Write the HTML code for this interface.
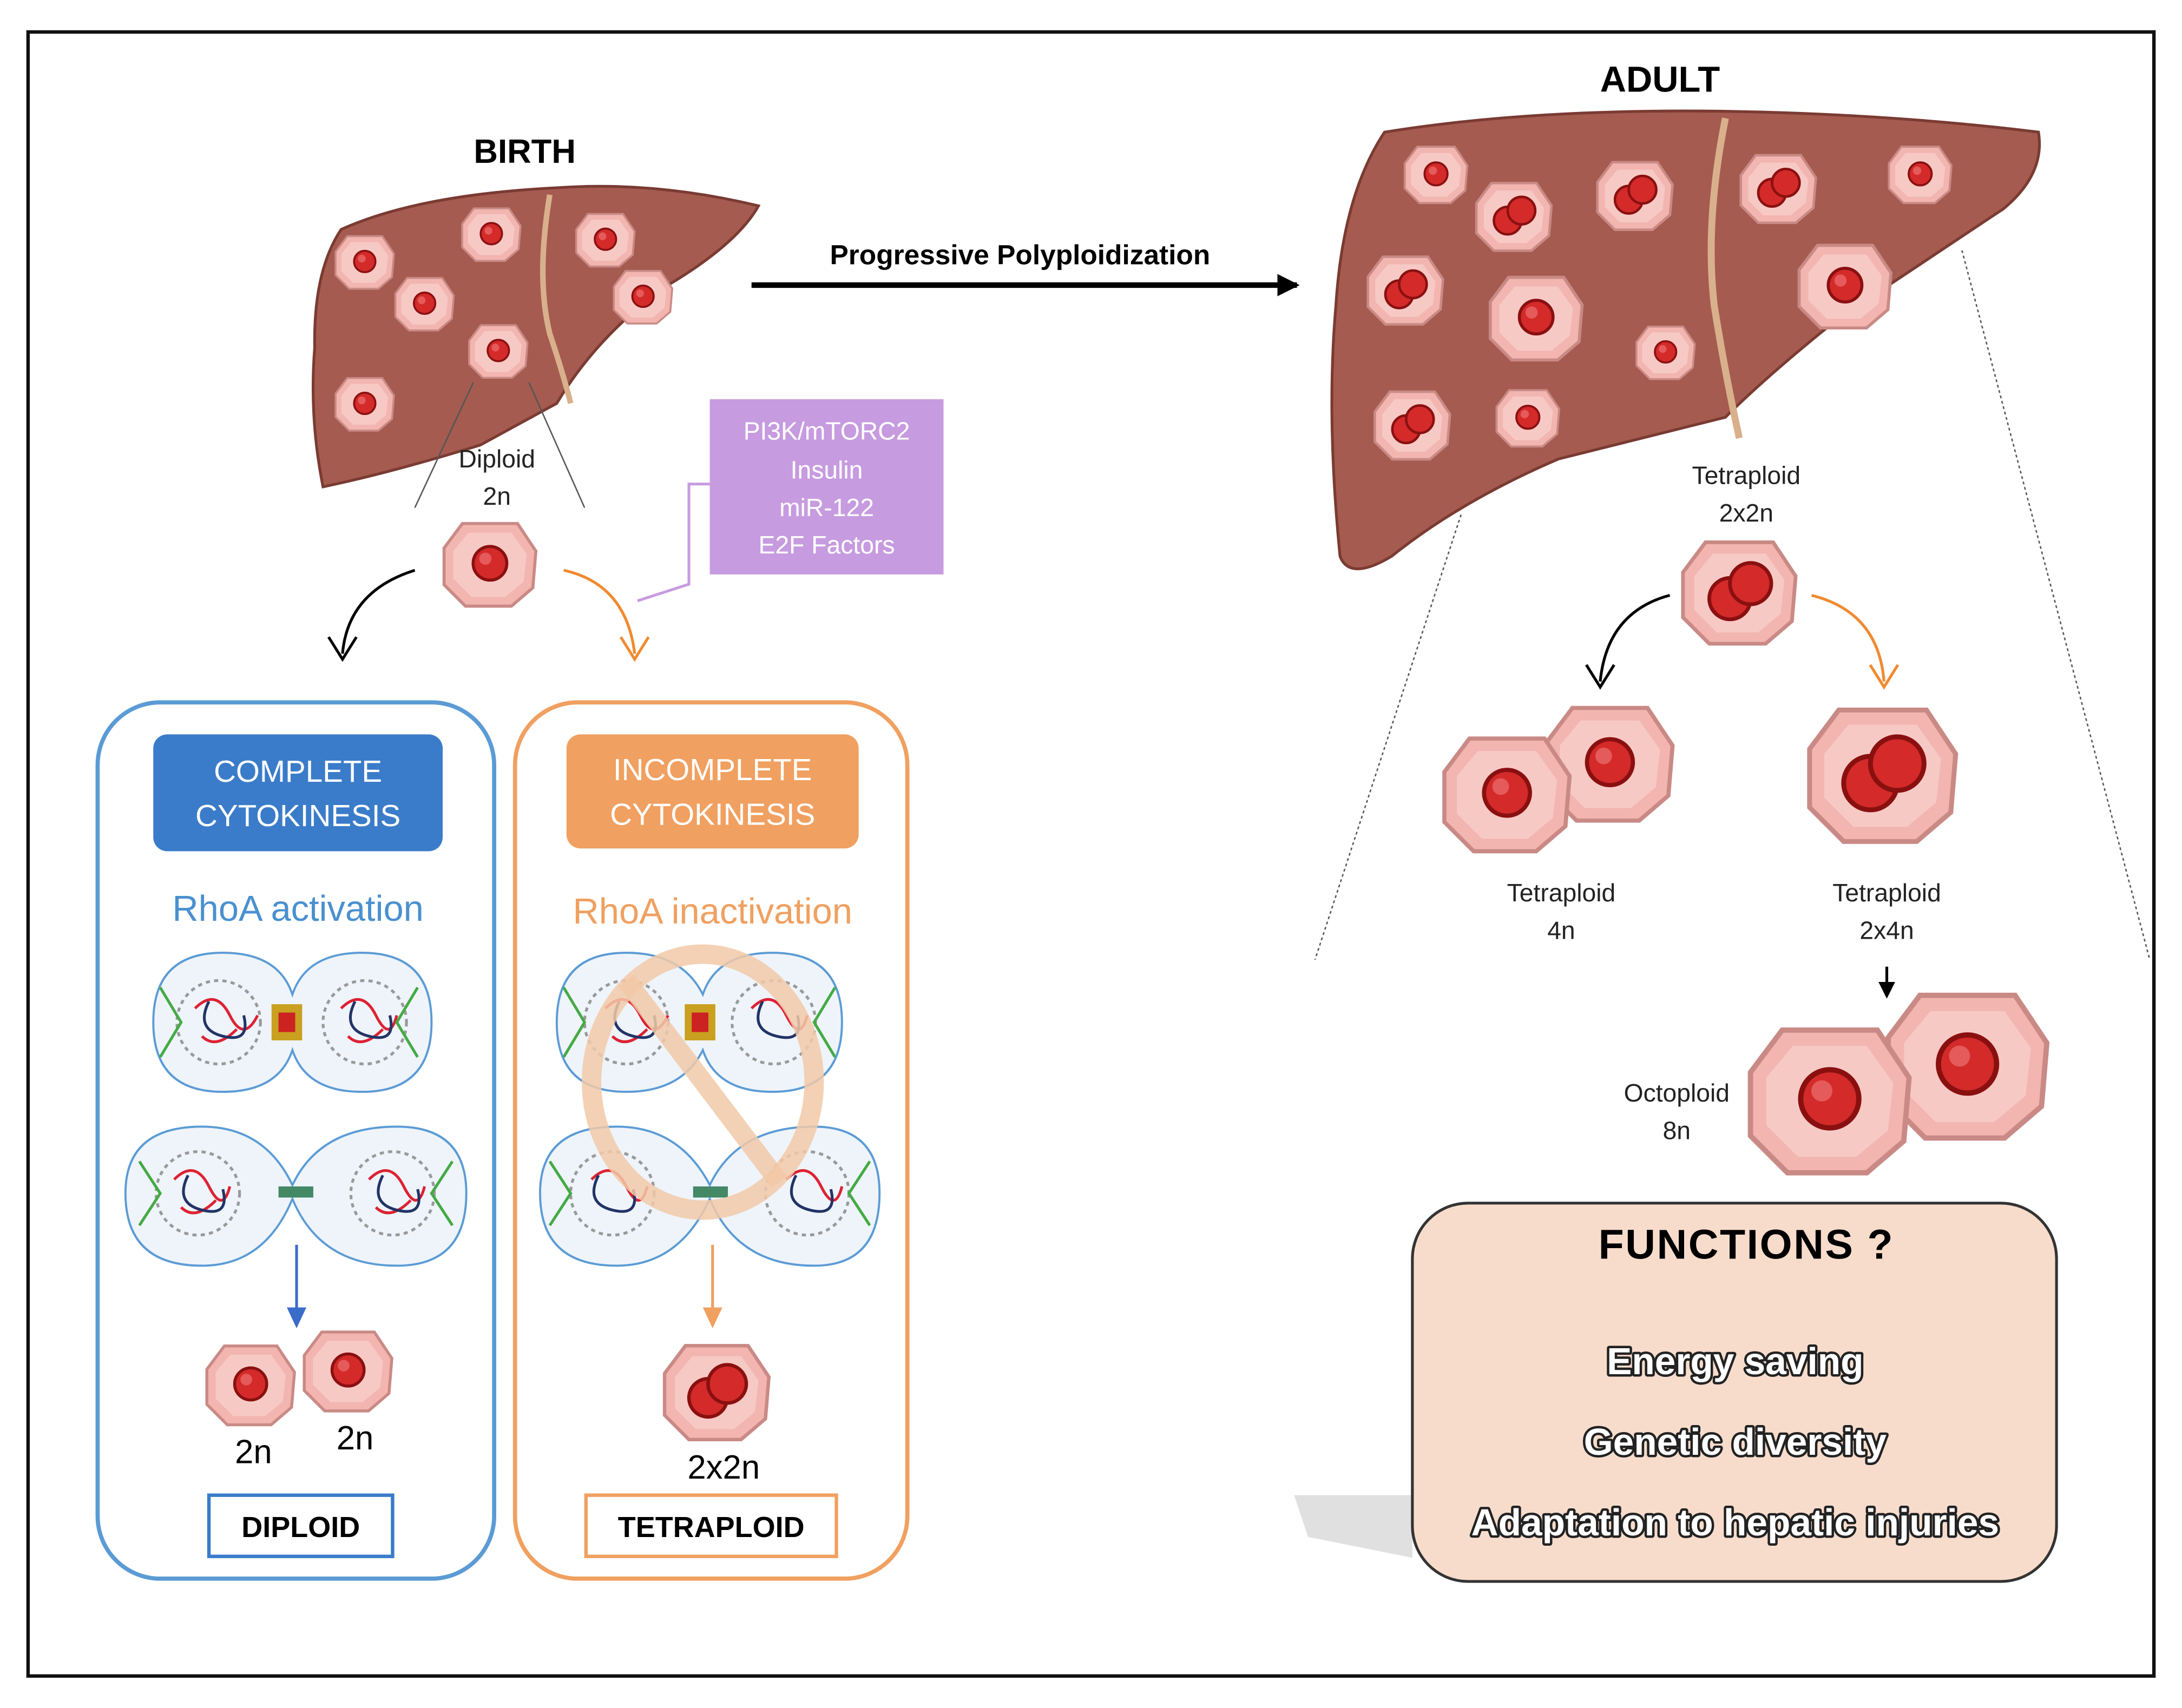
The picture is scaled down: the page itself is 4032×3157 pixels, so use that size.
<!DOCTYPE html>
<html><head><meta charset="utf-8"><style>
html,body{margin:0;padding:0;background:#fff;}
svg{display:block;}
text{font-family:"Liberation Sans",sans-serif;}
</style></head><body>
<svg width="4032" height="3157" viewBox="0 0 1568 1228" xmlns="http://www.w3.org/2000/svg">
<defs>
<g id="cell">
<path d="M-18,-26 L18,-26 L30,-8 L28,16 L14,28 L-16,28 L-30,14 L-30,-10 Z" fill="#f2b5b0" stroke="#c98a86" stroke-width="2"/>
<path d="M-14,-20 L14,-20 L24,-6 L22,12 L10,22 L-12,22 L-24,10 L-24,-8 Z" fill="#f7c9c5"/>
<circle cx="0" cy="0" r="11" fill="#d42a2a" stroke="#8a1010" stroke-width="2"/>
<circle cx="-3" cy="-3" r="4" fill="#e55a5a"/>
</g>
<g id="cell2">
<path d="M-18,-26 L18,-26 L30,-8 L28,16 L14,28 L-16,28 L-30,14 L-30,-10 Z" fill="#f2b5b0" stroke="#c98a86" stroke-width="2"/>
<path d="M-14,-20 L14,-20 L24,-6 L22,12 L10,22 L-12,22 L-24,10 L-24,-8 Z" fill="#f7c9c5"/>
<circle cx="-5" cy="4" r="11" fill="#d42a2a" stroke="#8a1010" stroke-width="2"/>
<circle cx="6" cy="-4" r="11" fill="#d42a2a" stroke="#8a1010" stroke-width="2"/>
</g>
<marker id="ab" markerUnits="userSpaceOnUse" markerWidth="16" markerHeight="16" refX="14" refY="8" orient="auto"><path d="M0,0 L16,8 L0,16 Z" fill="#000"/></marker>
<marker id="as" markerUnits="userSpaceOnUse" markerWidth="12" markerHeight="12" refX="10" refY="6" orient="auto"><path d="M0,0 L12,6 L0,12 Z" fill="#000"/></marker>
</defs>
<rect width="1568" height="1228" fill="#fff"/>
<rect x="20" y="23" width="1528" height="1182" fill="none" stroke="#111" stroke-width="2.5"/>

<!-- Birth liver -->
<path d="M245,165 Q300,140 400,135 Q470,130 545,148 Q530,175 480,205 Q430,240 400,290 L345,320 Q280,340 232,350 Q222,300 226,250 Q225,195 245,165 Z" fill="#a55b4f" stroke="#7a3b32" stroke-width="2"/>
<path d="M395,140 Q385,200 395,240 Q405,270 410,290" fill="none" stroke="#d9b08c" stroke-width="4"/>
<text x="377" y="117" font-size="24" font-weight="bold" text-anchor="middle">BIRTH</text>
<use href="#cell" transform="translate(262,188) scale(0.7)"/>
<use href="#cell" transform="translate(353,168) scale(0.7)"/>
<use href="#cell" transform="translate(305,218) scale(0.7)"/>
<use href="#cell" transform="translate(435,172) scale(0.7)"/>
<use href="#cell" transform="translate(462,213) scale(0.7)"/>
<use href="#cell" transform="translate(358,252) scale(0.7)"/>
<use href="#cell" transform="translate(262,290) scale(0.7)"/>
<line x1="340" y1="275" x2="298" y2="365" stroke="#555" stroke-width="1"/>
<line x1="380" y1="275" x2="420" y2="365" stroke="#555" stroke-width="1"/>
<text x="357" y="336" font-size="18" text-anchor="middle" fill="#222">Diploid</text>
<text x="357" y="363" font-size="18" text-anchor="middle" fill="#222">2n</text>
<use href="#cell" transform="translate(352,405) scale(1.1)"/>
<path d="M298,410 Q250,425 246,470" fill="none" stroke="#000" stroke-width="2"/>
<path d="M236,458 L246,474 L256,458" fill="none" stroke="#000" stroke-width="2"/>
<path d="M405,410 Q450,420 456,470" fill="none" stroke="#f08a30" stroke-width="2"/>
<path d="M446,458 L456,474 L466,458" fill="none" stroke="#f08a30" stroke-width="2"/>
<polyline points="458,432 495,420 495,348 510,348" fill="none" stroke="#c79be0" stroke-width="2"/>
<rect x="510" y="287" width="168" height="126" fill="#c79be0"/>
<g font-size="18" fill="#fff" text-anchor="middle">
<text x="594" y="316">PI3K/mTORC2</text><text x="594" y="344">Insulin</text>
<text x="594" y="371">miR-122</text><text x="594" y="398">E2F Factors</text></g>

<!-- Arrow -->
<line x1="540" y1="205" x2="932" y2="205" stroke="#000" stroke-width="4" marker-end="url(#ab)"/>
<text x="733" y="190" font-size="20" font-weight="bold" text-anchor="middle">Progressive  Polyploidization</text>

<!-- Adult liver -->
<path d="M995,95 Q1100,78 1240,80 Q1360,82 1465,95 Q1470,125 1440,150 Q1380,190 1320,230 Q1270,270 1240,300 L1120,330 Q1050,360 1000,400 Q970,418 963,400 Q953,300 960,220 Q965,140 995,95 Z" fill="#a55b4f" stroke="#7a3b32" stroke-width="2"/>
<path d="M1240,85 Q1225,160 1232,220 Q1240,270 1250,315" fill="none" stroke="#d9b08c" stroke-width="5"/>
<text x="1193" y="66" font-size="26" font-weight="bold" text-anchor="middle">ADULT</text>
<use href="#cell" transform="translate(1032,125) scale(0.75)"/>
<use href="#cell2" transform="translate(1088,155) scale(0.9)"/>
<use href="#cell2" transform="translate(1175,140) scale(0.9)"/>
<use href="#cell2" transform="translate(1278,135) scale(0.9)"/>
<use href="#cell" transform="translate(1380,125) scale(0.75)"/>
<use href="#cell2" transform="translate(1010,208) scale(0.9)"/>
<use href="#cell" transform="translate(1104,228) scale(1.1)"/>
<use href="#cell" transform="translate(1326,205) scale(1.1)"/>
<use href="#cell" transform="translate(1197,253) scale(0.7)"/>
<use href="#cell2" transform="translate(1015,305) scale(0.9)"/>
<use href="#cell" transform="translate(1098,300) scale(0.75)"/>
<line x1="1050" y1="370" x2="945" y2="690" stroke="#555" stroke-width="1" stroke-dasharray="2,2"/>
<line x1="1410" y1="180" x2="1545" y2="690" stroke="#555" stroke-width="1" stroke-dasharray="2,2"/>
<text x="1255" y="348" font-size="18" text-anchor="middle" fill="#222">Tetraploid</text>
<text x="1255" y="375" font-size="18" text-anchor="middle" fill="#222">2x2n</text>
<use href="#cell2" transform="translate(1250,425) scale(1.35)"/>
<path d="M1200,428 Q1155,440 1150,490" fill="none" stroke="#000" stroke-width="2"/>
<path d="M1140,478 L1150,494 L1160,478" fill="none" stroke="#000" stroke-width="2"/>
<path d="M1302,428 Q1350,440 1354,490" fill="none" stroke="#f08a30" stroke-width="2"/>
<path d="M1344,478 L1354,494 L1364,478" fill="none" stroke="#f08a30" stroke-width="2"/>
<use href="#cell" transform="translate(1157,548) scale(1.5)"/>
<use href="#cell" transform="translate(1083,570) scale(1.5)"/>
<use href="#cell2" transform="translate(1353,556) scale(1.75)"/>
<text x="1122" y="648" font-size="18" text-anchor="middle" fill="#222">Tetraploid</text>
<text x="1122" y="675" font-size="18" text-anchor="middle" fill="#222">4n</text>
<text x="1356" y="648" font-size="18" text-anchor="middle" fill="#222">Tetraploid</text>
<text x="1356" y="675" font-size="18" text-anchor="middle" fill="#222">2x4n</text>
<line x1="1356" y1="695" x2="1356" y2="716" stroke="#000" stroke-width="2" marker-end="url(#as)"/>
<use href="#cell" transform="translate(1414,765) scale(1.9)"/>
<use href="#cell" transform="translate(1315,790) scale(1.9)"/>
<text x="1205" y="792" font-size="18" text-anchor="middle" fill="#222">Octoploid</text>
<text x="1205" y="819" font-size="18" text-anchor="middle" fill="#222">8n</text>

<!-- Functions -->
<path d="M930,1075 L1015,1075 L1015,1120 L940,1105 Z" fill="#ccc" opacity="0.6"/>
<rect x="1015" y="865" width="463" height="272" rx="40" fill="#f8dccb" stroke="#333" stroke-width="2"/>
<text x="1255" y="905" font-size="30" font-weight="bold" text-anchor="middle" letter-spacing="1">FUNCTIONS ?</text>
<g font-size="27" font-weight="bold" text-anchor="middle" fill="#fff" stroke="#222" stroke-width="3.5" stroke-linejoin="round" paint-order="stroke">
<text x="1247" y="988">Energy saving</text>
<text x="1247" y="1046">Genetic diversity</text>
<text x="1247" y="1104">Adaptation to hepatic injuries</text></g>

<!-- Left panel -->
<rect x="70" y="505" width="285" height="630" rx="45" fill="#fff" stroke="#5b9bd5" stroke-width="3"/>
<rect x="110" y="528" width="208" height="84" rx="10" fill="#3a7cc9"/>
<text x="214" y="562" font-size="22" fill="#fff" text-anchor="middle">COMPLETE</text>
<text x="214" y="594" font-size="22" fill="#fff" text-anchor="middle">CYTOKINESIS</text>
<text x="214" y="662" font-size="26" fill="#4a90d0" text-anchor="middle">RhoA activation</text>
<g fill="#eef4fa" stroke="#5b9bd5" stroke-width="1.5">
<path d="M110,735 Q110,685 160,685 Q200,685 210,715 Q220,685 260,685 Q310,685 310,735 Q310,785 260,785 Q220,785 210,755 Q200,785 160,785 Q110,785 110,735 Z"/>
<path d="M90,858 Q90,810 145,810 Q190,810 210,852 Q230,810 285,810 Q335,810 335,858 Q335,910 285,910 Q230,910 210,862 Q190,910 145,910 Q90,910 90,858 Z"/>
</g>
<g fill="none" stroke-width="2">
<circle cx="157" cy="735" r="30" stroke="#999" stroke-dasharray="3,3"/><circle cx="262" cy="735" r="30" stroke="#999" stroke-dasharray="3,3"/>
<circle cx="142" cy="858" r="30" stroke="#999" stroke-dasharray="3,3"/><circle cx="282" cy="858" r="30" stroke="#999" stroke-dasharray="3,3"/>
<path d="M140,725 q15,-15 25,5 t20,0 M145,745 q10,10 25,-5" stroke="#d23"/><path d="M150,720 q-10,20 10,25 t15,-15" stroke="#236"/>
<path d="M245,725 q15,-15 25,5 t15,0 M250,745 q10,10 25,-5" stroke="#d23"/><path d="M255,720 q-10,20 10,25 t15,-15" stroke="#236"/>
<path d="M125,848 q15,-15 25,5 t15,0 M130,868 q10,10 25,-5" stroke="#d23"/><path d="M135,845 q-10,20 10,25 t15,-15" stroke="#236"/>
<path d="M265,848 q15,-15 25,5 t15,0 M270,868 q10,10 25,-5" stroke="#d23"/><path d="M275,845 q-10,20 10,25 t15,-15" stroke="#236"/>
<path d="M115,710 l15,25 l-15,25 M300,710 l-15,25 l15,25 M100,835 l15,23 l-15,23 M325,835 l-15,23 l15,23" stroke="#4a4"/>
</g>
<rect x="195" y="722" width="22" height="26" fill="#c9a020"/><rect x="200" y="728" width="12" height="14" fill="#c22"/>
<rect x="200" y="853" width="25" height="8" fill="#486"/>
<line x1="213" y1="895" x2="213" y2="945" stroke="#3a6cc9" stroke-width="2"/>
<path d="M206,940 L213,955 L220,940 Z" fill="#3a6cc9"/>
<use href="#cell" transform="translate(180,995) scale(1.05)"/>
<use href="#cell" transform="translate(250,985) scale(1.05)"/>
<text x="182" y="1052" font-size="24" text-anchor="middle">2n</text>
<text x="255" y="1042" font-size="24" text-anchor="middle">2n</text>
<rect x="150" y="1075" width="132" height="44" fill="#fff" stroke="#3a7cc9" stroke-width="2.5"/>
<text x="216" y="1105" font-size="21" font-weight="bold" text-anchor="middle">DIPLOID</text>

<!-- Right panel -->
<rect x="370" y="505" width="282" height="630" rx="45" fill="#fff" stroke="#f0a060" stroke-width="3"/>
<rect x="407" y="528" width="210" height="82" rx="10" fill="#f0a060"/>
<text x="512" y="561" font-size="22" fill="#fff" text-anchor="middle">INCOMPLETE</text>
<text x="512" y="593" font-size="22" fill="#fff" text-anchor="middle">CYTOKINESIS</text>
<text x="512" y="664" font-size="26" fill="#f0a060" text-anchor="middle">RhoA inactivation</text>
<g fill="#eef4fa" stroke="#5b9bd5" stroke-width="1.5">
<path d="M400,735 Q400,685 450,685 Q490,685 505,715 Q515,685 555,685 Q605,685 605,735 Q605,785 555,785 Q515,785 505,755 Q490,785 450,785 Q400,785 400,735 Z"/>
<path d="M388,858 Q388,810 443,810 Q488,810 510,852 Q530,810 585,810 Q632,810 632,858 Q632,910 585,910 Q530,910 510,862 Q488,910 443,910 Q388,910 388,858 Z"/>
</g>
<g fill="none" stroke-width="2">
<circle cx="450" cy="735" r="30" stroke="#999" stroke-dasharray="3,3"/><circle cx="556" cy="735" r="30" stroke="#999" stroke-dasharray="3,3"/>
<circle cx="440" cy="858" r="30" stroke="#999" stroke-dasharray="3,3"/><circle cx="580" cy="858" r="30" stroke="#999" stroke-dasharray="3,3"/>
<path d="M435,725 q15,-15 25,5 t20,0 M440,745 q10,10 25,-5" stroke="#d23"/><path d="M445,720 q-10,20 10,25 t15,-15" stroke="#236"/>
<path d="M540,725 q15,-15 25,5 t15,0" stroke="#d23"/><path d="M548,720 q-10,20 10,25 t15,-15" stroke="#236"/>
<path d="M425,848 q15,-15 25,5 t15,0" stroke="#d23"/><path d="M430,845 q-10,20 10,25 t15,-15" stroke="#236"/>
<path d="M565,848 q15,-15 25,5 t15,0" stroke="#d23"/><path d="M572,845 q-10,20 10,25 t15,-15" stroke="#236"/>
<path d="M405,710 l15,25 l-15,25 M600,710 l-15,25 l15,25 M395,835 l15,23 l-15,23 M625,835 l-15,23 l15,23" stroke="#4a4"/>
</g>
<rect x="492" y="722" width="22" height="26" fill="#c9a020"/><rect x="497" y="728" width="12" height="14" fill="#c22"/>
<rect x="498" y="853" width="25" height="8" fill="#486"/>
<ellipse cx="505" cy="778" rx="80" ry="92" fill="none" stroke="#f2c9a8" stroke-width="14" opacity="0.85"/>
<line x1="450" y1="705" x2="560" y2="850" stroke="#f2c9a8" stroke-width="14" opacity="0.85"/>
<line x1="512" y1="895" x2="512" y2="945" stroke="#f0a060" stroke-width="2"/>
<path d="M505,940 L512,955 L519,940 Z" fill="#f0a060"/>
<use href="#cell2" transform="translate(515,1000) scale(1.25)"/>
<text x="520" y="1063" font-size="24" text-anchor="middle">2x2n</text>
<rect x="421" y="1075" width="180" height="44" fill="#fff" stroke="#f0a060" stroke-width="2.5"/>
<text x="511" y="1105" font-size="21" font-weight="bold" text-anchor="middle">TETRAPLOID</text>
</svg>
</body></html>
